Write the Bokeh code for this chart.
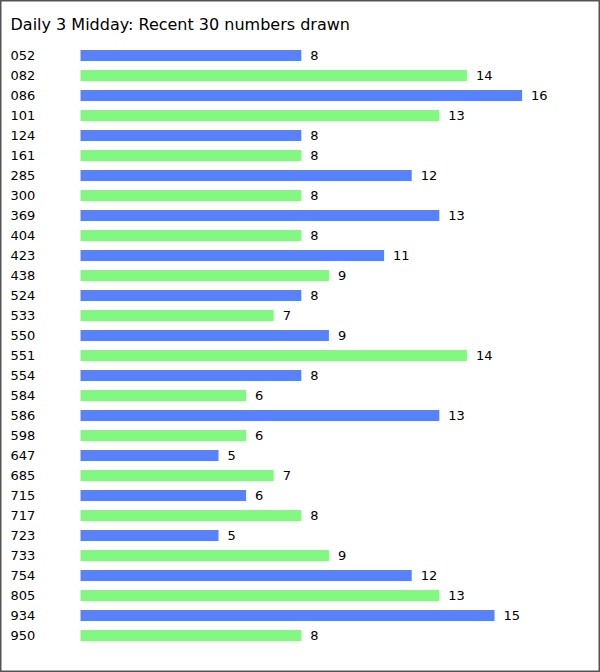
from bokeh.plotting import figure
from bokeh.models import Range1d, Label, ColumnDataSource
from bokeh.core.properties import value
from bokeh.embed import file_html
from bokeh.resources import INLINE

numbers = ["052", "082", "086", "101", "124", "161", "285", "300", "369", "404",
           "423", "438", "524", "533", "550", "551", "554", "584", "586", "598",
           "647", "685", "715", "717", "723", "733", "754", "805", "934", "950"]
counts = [8, 14, 16, 13, 8, 8, 12, 8, 13, 8,
          11, 9, 8, 7, 9, 14, 8, 6, 13, 6,
          5, 7, 6, 8, 5, 9, 12, 13, 15, 8]
palette = ["#5882fa", "#82f882"]
title_text = "Daily 3 Midday: Recent 30 numbers drawn"

W, H = 600, 672
left_px, px_per_unit = 80, 27.6
top_px, row_px = 55, 20

idx = list(range(len(numbers)))
colors = [palette[i % 2] for i in idx]
src = ColumnDataSource(dict(y=idx, v=counts, name=numbers, color=colors,
                            lbl=[str(c) for c in counts], zero=[0] * len(idx)))

p = figure(width=W, height=H, output_backend="svg", toolbar_location=None,
           x_range=Range1d(-left_px / px_per_unit, (W - left_px) / px_per_unit),
           y_range=Range1d((H - top_px) / row_px, -top_px / row_px),
           min_border=0)
p.axis.visible = False
p.grid.visible = False
p.outline_line_color = "#555555"
p.outline_line_width = 2
p.background_fill_color = "white"

p.hbar(y="y", left=0, right="v", height=0.55, color="color", line_color=None, source=src)
p.text(x="v", y="y", text="lbl", x_offset=9, text_baseline="middle", text_align="left",
       text_font=value("DejaVu Sans"), text_font_size="13px", text_color="black", source=src)
p.text(x="zero", y="y", text="name", x_offset=-70, text_baseline="middle", text_align="left",
       text_font=value("DejaVu Sans"), text_font_size="13px", text_color="black", source=src)

p.add_layout(Label(x=10, y=H - 24, x_units="screen", y_units="screen", text=title_text,
                   text_baseline="middle", text_font="DejaVu Sans", text_font_size="16px",
                   text_color="black"))

open("out.html", "w").write(file_html(p, INLINE))
